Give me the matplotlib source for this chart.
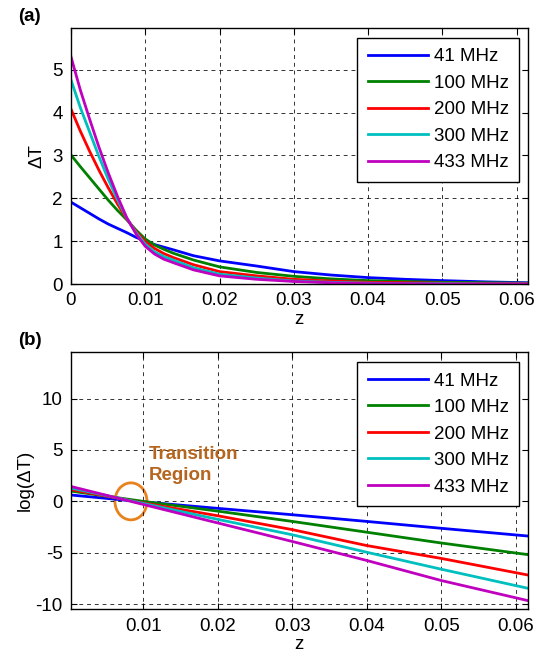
import numpy as np
import matplotlib
matplotlib.use("Agg")
import matplotlib.pyplot as plt
from matplotlib.patches import Ellipse

plt.rcParams['font.family'] = ['Liberation Sans', 'DejaVu Sans']
plt.rcParams['axes.unicode_minus'] = False

labels = ["41 MHz", "100 MHz", "200 MHz", "300 MHz", "433 MHz"]
colors = ["#0000ff", "#008000", "#ff0000", "#00bfbf", "#bf00bf"]

# panel (a): Delta T
z_a = [0, 0.00125, 0.0025, 0.00375, 0.005, 0.00625, 0.0075, 0.00875, 0.01, 0.01125,
       0.0125, 0.01375, 0.0165, 0.02, 0.025, 0.03, 0.035, 0.04, 0.045, 0.05, 0.056, 0.0615]
dT_41 = [1.91, 1.78, 1.65, 1.52, 1.40, 1.30, 1.20, 1.09, 1.00, 0.92,
         0.86, 0.80, 0.66, 0.54, 0.42, 0.29, 0.21, 0.15, 0.11, 0.08, 0.05, 0.03]
dT_100 = [3.01, 2.74, 2.48, 2.22, 1.96, 1.72, 1.50, 1.26, 1.05, 0.91,
          0.81, 0.72, 0.56, 0.40, 0.27, 0.18, 0.12, 0.08, 0.06, 0.04, 0.03, 0.02]
dT_200 = [4.08, 3.57, 3.10, 2.66, 2.25, 1.87, 1.52, 1.23, 0.99, 0.83,
          0.71, 0.62, 0.45, 0.29, 0.19, 0.11, 0.07, 0.04, 0.03, 0.02, 0.01, 0.01]
dT_300 = [4.76, 4.12, 3.55, 2.98, 2.45, 1.97, 1.54, 1.20, 0.93, 0.75,
          0.64, 0.56, 0.38, 0.23, 0.14, 0.07, 0.04, 0.02, 0.01, 0.01, 0.0, 0.0]
dT_433 = [5.30, 4.53, 3.85, 3.20, 2.60, 2.05, 1.55, 1.17, 0.88, 0.70,
          0.58, 0.50, 0.33, 0.19, 0.11, 0.06, 0.03, 0.01, 0.01, 0.0, 0.0, 0.0]

# panel (b): log(Delta T)
z_b = [0.0003, 0.01, 0.02, 0.03, 0.04, 0.05, 0.0616]
lg_41 = [0.62, -0.05, -0.68, -1.30, -1.95, -2.62, -3.37]
lg_100 = [1.00, 0.0, -0.95, -1.95, -3.00, -4.05, -5.18]
lg_200 = [1.15, -0.15, -1.40, -2.75, -4.30, -5.55, -7.16]
lg_300 = [1.30, -0.20, -1.75, -3.25, -4.95, -6.60, -8.45]
lg_433 = [1.45, -0.30, -2.10, -3.90, -5.75, -7.70, -9.65]

fig = plt.figure(figsize=(5.46, 6.61), dpi=100)
ax1 = fig.add_axes([0.130, 0.5703, 0.8365, 0.3873])
ax2 = fig.add_axes([0.130, 0.0782, 0.8365, 0.3888])

fs = 13.5

def style(ax):
    ax.grid(True, color='black', linestyle=(0, (4, 4)), linewidth=0.7, alpha=0.8)
    ax.tick_params(direction='in', top=True, right=True, labelsize=fs, length=4, pad=6)
    for s in ax.spines.values():
        s.set_linewidth(1.0)

for y, c, l in zip([dT_41, dT_100, dT_200, dT_300, dT_433], colors, labels):
    ax1.plot(z_a, y, color=c, lw=2, label=l)
ax1.set_xlim(0, 0.0615)
ax1.set_ylim(0, 5.97)
ax1.set_xticks([0, 0.01, 0.02, 0.03, 0.04, 0.05, 0.06])
ax1.set_xticklabels(["0", "0.01", "0.02", "0.03", "0.04", "0.05", "0.06"])
ax1.set_yticks([0, 1, 2, 3, 4, 5])
ax1.set_xlabel("z", fontsize=fs, labelpad=1)
ax1.set_ylabel("ΔT", fontsize=fs, labelpad=5)
style(ax1)

for y, c, l in zip([lg_41, lg_100, lg_200, lg_300, lg_433], colors, labels):
    ax2.plot(z_b, y, color=c, lw=2, label=l)
ax2.set_xlim(0.0003, 0.0616)
ax2.set_ylim(-10.5, 14.5)
ax2.set_xticks([0.01, 0.02, 0.03, 0.04, 0.05, 0.06])
ax2.set_xticklabels(["0.01", "0.02", "0.03", "0.04", "0.05", "0.06"])
ax2.set_yticks([-10, -5, 0, 5, 10])
ax2.set_xlabel("z", fontsize=fs, labelpad=1)
ax2.set_ylabel("log(ΔT)", fontsize=fs, labelpad=1)
style(ax2)

for ax in (ax1, ax2):
    leg = ax.legend(loc='upper right', bbox_to_anchor=(0.982, 0.962), fontsize=fs,
                    fancybox=False, edgecolor='black', framealpha=1,
                    handlelength=3.2, handletextpad=0.35, labelspacing=0.5,
                    borderpad=0.55, borderaxespad=0)
    leg.get_frame().set_linewidth(1.0)

ax2.add_patch(Ellipse((0.00835, 0.0), 0.0043, 3.6, fill=False, edgecolor='#e8821e', lw=2))
ax2.text(0.0107, 3.55, "Transition\nRegion", color='#b5651d', fontsize=fs, fontweight='bold',
         ha='left', va='center', linespacing=1.3)

fig.text(0.033, 0.975, "(a)", fontsize=fs, fontweight='bold', ha='left', va='center')
fig.text(0.033, 0.485, "(b)", fontsize=fs, fontweight='bold', ha='left', va='center')

fig.savefig("out.png", dpi=100)
